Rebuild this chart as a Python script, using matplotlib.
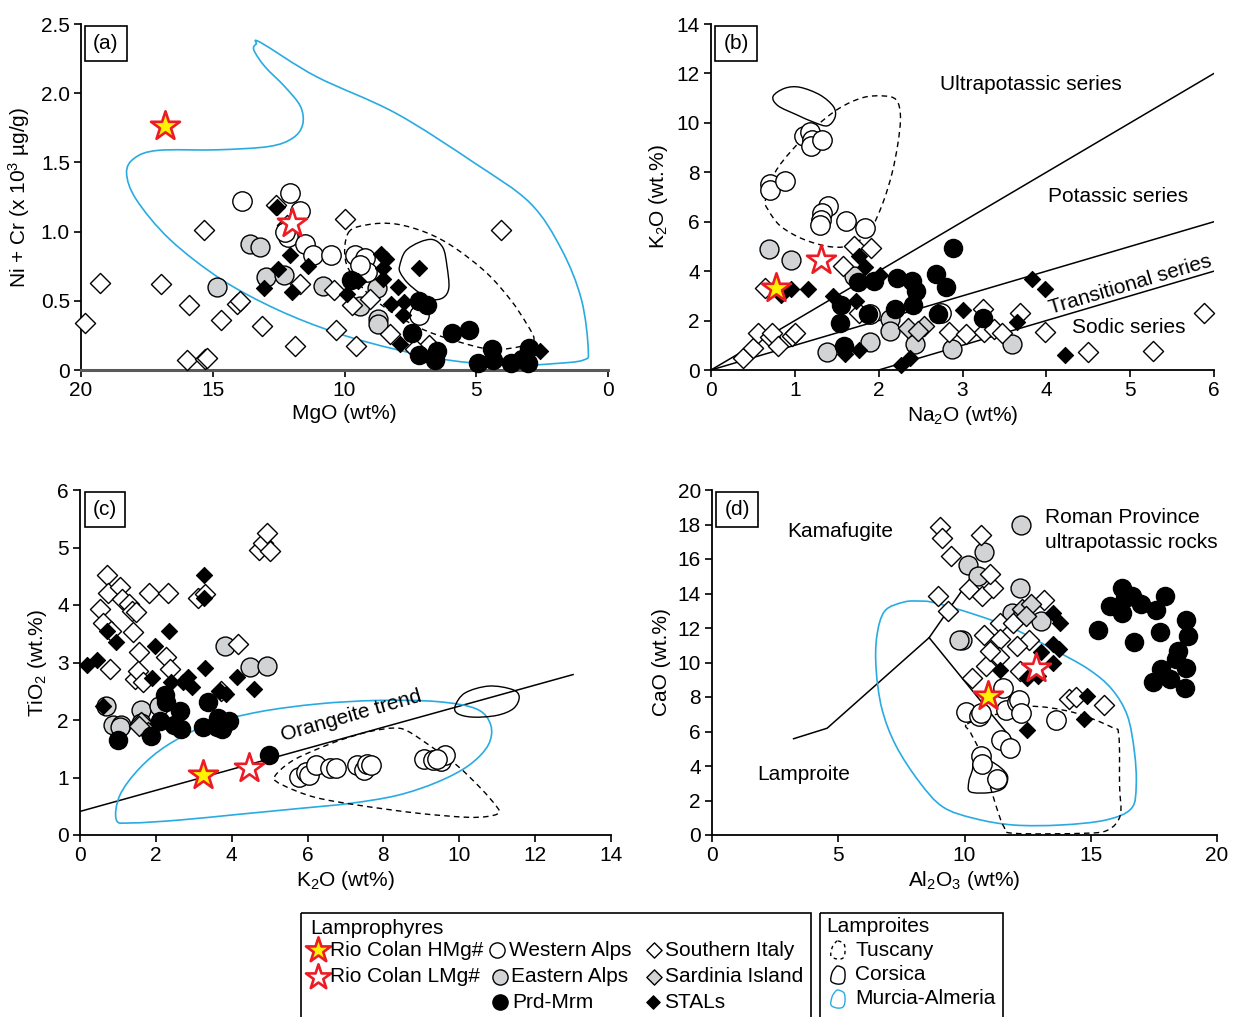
import numpy as np
import matplotlib
matplotlib.use("Agg")
import matplotlib.pyplot as plt
from matplotlib.path import Path
from matplotlib.patches import PathPatch, Rectangle

plt.rcParams['font.family'] = ['Liberation Sans', 'DejaVu Sans']
plt.rcParams['mathtext.fontset'] = 'custom'
plt.rcParams['mathtext.rm'] = 'Liberation Sans'
plt.rcParams['mathtext.it'] = 'Liberation Sans'
plt.rcParams['mathtext.default'] = 'regular'

# ---------------- panel (a): MgO vs Ni+Cr ----------------
A_WALPS = [(13.89, 1.22), (12.07, 1.28), (11.67, 1.15), (12.16, 0.96), (12.25, 1.00), (11.49, 0.91),
           (11.19, 0.83), (10.50, 0.83), (9.61, 0.83), (9.23, 0.81), (9.14, 0.71), (9.40, 0.76), (7.16, 0.40)]
A_EALPS = [(13.57, 0.91), (13.21, 0.89), (14.85, 0.60), (12.99, 0.67), (12.30, 0.69), (10.80, 0.61),
           (8.78, 0.59), (9.41, 0.46), (8.71, 0.37), (8.71, 0.33)]
A_PRD = [(9.77, 0.65), (7.19, 0.50), (6.86, 0.47), (7.43, 0.27), (7.16, 0.11), (6.56, 0.07), (6.49, 0.14),
         (5.93, 0.27), (5.29, 0.29), (4.95, 0.05), (4.40, 0.15), (4.38, 0.07), (3.68, 0.05), (3.26, 0.08),
         (3.03, 0.05), (2.99, 0.16)]
A_SITALY = [(19.85, 0.34), (19.28, 0.63), (16.97, 0.62), (15.89, 0.47), (15.33, 1.01), (15.98, 0.07),
            (15.30, 0.08), (15.22, 0.09), (14.70, 0.36), (14.07, 0.48), (13.95, 0.50), (13.12, 0.32),
            (11.89, 0.17), (12.60, 1.19), (12.20, 1.05), (11.67, 0.62), (10.32, 0.29), (9.98, 1.09),
            (9.56, 0.17), (9.71, 0.47), (9.04, 0.51), (8.29, 0.26), (6.79, 0.18), (4.05, 1.01),
            (7.31, 0.15), (10.39, 0.58)]
A_SARD = []
A_STALS = [(12.57, 1.18), (12.07, 0.83), (11.37, 0.75), (12.52, 0.73), (13.05, 0.59), (12.00, 0.56),
           (9.89, 0.55), (9.49, 0.64), (8.63, 0.84), (8.44, 0.80), (8.54, 0.74), (8.54, 0.66), (7.96, 0.60),
           (8.24, 0.48), (7.76, 0.49), (7.79, 0.40), (7.16, 0.74), (7.91, 0.19), (2.58, 0.14)]
A_HMG = [(16.80, 1.76)]
A_LMG = [(12.01, 1.06)]
A_MURCIA = [(13.17, 2.365), (11.07, 2.12), (8.06, 1.856), (5.06, 1.495), (2.96, 1.207), (1.76, 0.87),
            (1.01, 0.51), (0.75, 0.149), (0.93, 0.072), (2.06, 0.046), (3.56, 0.034), (5.81, 0.065),
            (8.06, 0.149), (10.32, 0.269), (12.57, 0.438), (14.67, 0.654), (16.62, 0.942), (17.90, 1.231),
            (18.27, 1.423), (17.97, 1.531), (17.07, 1.587), (14.82, 1.591), (12.87, 1.615), (11.97, 1.675),
            (11.59, 1.772), (11.67, 1.904), (12.27, 2.048), (13.02, 2.192), (13.44, 2.312), (13.35, 2.356)]
A_TUSCANY = [(9.86, 0.99), (9.11, 1.05), (8.06, 1.055), (6.86, 0.99), (5.81, 0.882), (4.61, 0.702),
             (3.71, 0.51), (3.11, 0.341), (2.81, 0.221), (3.26, 0.173), (4.46, 0.149), (5.96, 0.221),
             (7.16, 0.305), (8.36, 0.438), (9.26, 0.582), (9.94, 0.774)]
A_CORSICA = [(7.91, 0.75), (7.69, 0.858), (7.16, 0.923), (6.64, 0.942), (6.26, 0.882), (6.11, 0.75),
             (6.04, 0.594), (6.26, 0.522), (6.71, 0.51), (7.16, 0.558), (7.61, 0.63), (7.88, 0.702)]

# ---------------- panel (b): Na2O vs K2O ----------------
B_WALPS = [(0.70, 7.52), (0.70, 7.30), (0.88, 7.63), (1.11, 9.48), (1.18, 9.65), (1.20, 9.32), (1.19, 9.05),
           (1.32, 9.32), (1.39, 6.62), (1.32, 6.35), (1.31, 6.08), (1.30, 5.88), (1.61, 6.02), (1.84, 5.75),
           (1.90, 2.25), (2.74, 2.32)]
B_EALPS = [(0.69, 4.90), (0.96, 4.47), (1.71, 3.80), (1.38, 0.73), (1.90, 1.13), (2.13, 2.07), (2.14, 1.58),
           (2.43, 1.06), (2.88, 0.83), (3.59, 1.04)]
B_PRD = [(1.75, 3.55), (1.94, 3.59), (2.22, 3.73), (2.40, 3.59), (2.44, 3.19), (1.55, 2.65), (1.54, 1.91),
         (1.59, 0.97), (1.87, 2.25), (2.19, 2.45), (2.41, 2.61), (2.68, 3.90), (2.80, 3.37), (2.71, 2.25),
         (2.89, 4.94), (3.25, 2.11)]
B_SITALY = [(0.38, 0.50), (0.50, 0.90), (0.56, 1.51), (0.70, 1.35), (0.73, 1.48), (0.80, 0.97), (0.97, 1.37),
            (1.00, 1.48), (0.64, 3.32), (1.57, 4.20), (1.70, 5.01), (1.91, 4.94), (1.76, 2.32), (2.84, 1.53),
            (3.04, 1.44), (3.25, 2.45), (3.26, 1.53), (3.38, 1.64), (3.47, 1.51), (3.68, 2.32), (3.99, 1.53),
            (4.50, 0.73), (5.27, 0.77), (5.88, 2.29)]
B_SARD = [(2.35, 1.71), (2.54, 1.78), (2.47, 1.58)]
B_STALS = [(0.95, 3.26), (1.16, 3.26), (1.45, 2.99), (1.76, 4.60), (1.84, 4.16), (2.01, 3.85), (1.73, 2.79),
           (1.77, 0.79), (1.60, 0.63), (2.27, 0.19), (2.37, 0.50), (3.00, 2.42), (3.65, 1.94), (3.83, 3.69),
           (3.99, 3.26), (4.22, 0.59), (0.84, 3.02)]
B_HMG = [(0.78, 3.30)]
B_LMG = [(1.31, 4.47)]
B_TUSCANY = [(0.65, 6.89), (0.76, 7.97), (0.97, 8.91), (1.25, 9.85), (1.53, 10.59), (1.81, 11.02),
             (2.05, 11.09), (2.21, 10.93), (2.26, 10.26), (2.23, 9.18), (2.16, 7.97), (2.05, 6.76),
             (1.90, 5.68), (1.69, 5.08), (1.44, 4.98), (1.11, 5.28), (0.83, 5.82), (0.68, 6.49)]
B_CORSICA = [(0.74, 11.07), (0.88, 11.40), (1.06, 11.44), (1.30, 11.13), (1.46, 10.66), (1.48, 10.23),
             (1.39, 9.88), (1.23, 10.02), (1.02, 10.33), (0.80, 10.69)]
B_SERIES_LINES = [((0, 6), (0, 12)), ((0, 6), (0, 6)), ((2, 6), (0, 4))]

# ---------------- panel (c): K2O vs TiO2 ----------------
C_WALPS = [(5.78, 1.01), (5.96, 1.09), (6.05, 1.05), (6.23, 1.21), (6.59, 1.17), (6.75, 1.16), (7.30, 1.21),
           (7.50, 1.13), (7.58, 1.23), (7.66, 1.21), (9.08, 1.32), (9.31, 1.30), (9.52, 1.29), (9.63, 1.39),
           (9.40, 1.33)]
C_EALPS = [(0.68, 2.24), (0.86, 1.92), (1.08, 1.91), (1.05, 1.87), (1.62, 2.18), (1.62, 1.94), (2.07, 2.24),
           (3.82, 3.29), (4.47, 2.92), (4.92, 2.94)]
C_SARD = [(1.62, 1.97), (1.78, 1.79), (1.55, 1.90)]
C_PRD = [(1.01, 1.66), (1.88, 1.73), (2.25, 2.43), (2.28, 2.31), (2.11, 1.98), (2.64, 2.16), (2.48, 1.92),
         (2.65, 1.84), (3.37, 2.31), (3.24, 1.88), (3.61, 1.87), (3.64, 2.03), (3.74, 1.84), (3.92, 1.98),
         (4.97, 1.39)]
C_SITALY = [(0.70, 4.52), (0.75, 4.21), (1.05, 4.31), (1.10, 4.10), (0.52, 3.93), (0.61, 3.69), (0.81, 3.55),
            (0.78, 2.89), (1.28, 4.02), (1.37, 3.90), (1.47, 3.88), (1.41, 3.53), (1.55, 3.18), (1.45, 2.71),
            (1.52, 2.86), (1.65, 2.66), (1.83, 4.21), (2.32, 4.21), (2.28, 3.10), (2.36, 2.89), (3.11, 4.13),
            (3.30, 4.19), (4.16, 3.32), (4.71, 4.96), (4.82, 5.08), (4.94, 5.25), (5.00, 4.94), (3.71, 2.51)]
C_STALS = [(0.19, 2.96), (0.46, 3.05), (0.71, 3.54), (0.94, 3.36), (1.91, 2.73), (1.99, 3.28), (2.35, 3.54),
           (2.41, 2.66), (2.85, 2.75), (2.96, 2.57), (3.28, 4.52), (3.28, 4.12), (3.30, 2.90), (3.68, 2.51),
           (3.84, 2.46), (4.13, 2.75), (4.60, 2.54), (0.60, 2.25), (2.72, 2.66)]
C_HMG = [(3.24, 1.05)]
C_LMG = [(4.45, 1.17)]
C_MURCIA = [(0.96, 0.26), (1.05, 0.69), (1.57, 1.16), (2.30, 1.56), (3.35, 1.91), (4.71, 2.14), (6.28, 2.28),
            (7.85, 2.34), (9.42, 2.32), (10.46, 2.19), (10.83, 1.91), (10.76, 1.56), (10.25, 1.21),
            (9.42, 0.92), (8.37, 0.69), (7.12, 0.55), (5.76, 0.46), (4.19, 0.36), (2.62, 0.26), (1.36, 0.21)]
C_CORSICA = [(9.89, 2.24), (10.15, 2.47), (10.78, 2.59), (11.40, 2.53), (11.58, 2.40), (11.43, 2.20),
             (10.99, 2.08), (10.36, 2.05), (9.96, 2.11)]
C_TUSCANY = [(5.13, 1.01), (5.55, 1.27), (6.17, 1.47), (6.91, 1.66), (7.64, 1.80), (8.27, 1.86), (8.63, 1.81),
             (9.21, 1.56), (9.94, 1.21), (10.57, 0.81), (10.99, 0.49), (11.04, 0.38), (10.72, 0.32),
             (10.15, 0.31), (8.89, 0.38), (7.32, 0.52), (6.17, 0.66), (5.34, 0.87)]
C_TREND = ((0, 13), (0.41, 2.79))

# ---------------- panel (d): Al2O3 vs CaO ----------------
D_WALPS = [(10.05, 7.15), (10.58, 6.92), (10.67, 7.08), (11.51, 8.52), (11.66, 7.27), (12.07, 7.69),
           (12.17, 7.85), (12.22, 7.06), (13.62, 6.69), (11.45, 5.48), (11.79, 5.06), (10.67, 4.58),
           (10.70, 4.13), (11.29, 3.23)]
D_EALPS = [(10.78, 16.38), (10.15, 15.67), (10.54, 15.04), (12.18, 14.33), (9.89, 11.31), (9.80, 11.30),
           (11.87, 12.85), (12.33, 12.85), (13.03, 12.40)]
D_SARD = [(12.26, 13.08), (12.64, 13.37), (12.45, 12.70)]
D_PRD = [(15.29, 11.88), (15.75, 13.27), (16.22, 14.29), (16.34, 13.75), (16.64, 13.88), (17.00, 13.37),
         (17.57, 13.02), (17.93, 13.88), (16.25, 12.85), (16.72, 11.21), (17.73, 11.77), (18.79, 12.46),
         (18.87, 11.54), (18.44, 10.67), (18.37, 10.23), (17.78, 9.65), (18.79, 9.67), (17.46, 8.88),
         (18.13, 9.04), (18.74, 8.52)]
D_SITALY = [(9.02, 17.88), (9.12, 17.21), (9.46, 16.19), (10.67, 17.37), (8.96, 13.88), (9.33, 12.98),
            (10.19, 14.27), (10.70, 13.88), (11.13, 14.33), (11.01, 15.15), (11.40, 12.27), (10.78, 11.60),
            (11.40, 11.35), (12.54, 11.31), (12.07, 10.96), (13.16, 13.65), (11.35, 10.29), (10.86, 9.81),
            (10.31, 9.13), (12.18, 9.48), (14.12, 7.88), (14.40, 7.98), (15.52, 7.54), (11.94, 12.31),
            (11.01, 10.67)]
D_STALS = [(13.50, 12.85), (13.78, 12.27), (13.50, 11.06), (13.73, 10.77), (13.03, 10.62), (13.50, 9.96),
           (11.40, 9.58), (12.46, 9.13), (12.92, 9.23), (14.87, 8.08), (14.74, 6.73), (12.49, 6.10)]
D_HMG = [(10.93, 8.08)]
D_LMG = [(12.85, 9.67)]
D_ROMAN = [(12.24, 17.97)]
D_MURCIA = [(7.59, 13.50), (6.84, 12.98), (6.53, 11.54), (6.50, 9.62), (6.73, 7.31), (7.28, 5.19),
            (8.21, 3.08), (9.14, 1.63), (10.39, 0.96), (11.94, 0.58), (13.81, 0.58), (15.60, 0.87),
            (16.61, 1.54), (16.80, 2.88), (16.73, 4.81), (16.45, 6.92), (15.83, 8.46), (14.90, 9.62),
            (13.50, 10.77), (11.94, 11.96), (10.39, 12.79), (8.83, 13.46), (8.21, 13.56)]
D_TUSCANY = [(10.11, 6.44), (11.32, 7.02), (12.57, 7.46), (14.28, 7.12), (15.83, 6.25), (16.11, 5.77),
             (16.14, 2.88), (16.17, 1.15), (15.68, 0.29), (14.74, 0.10), (11.94, 0.10), (11.56, 0.48),
             (11.24, 1.73), (10.93, 3.27), (10.62, 4.81), (10.23, 5.96)]
D_CORSICA = [(10.39, 4.23), (10.93, 4.33), (11.45, 3.88), (11.71, 3.37), (11.56, 2.73), (11.01, 2.46),
             (10.23, 2.50), (10.17, 3.08), (10.31, 3.75)]
D_LAMP_LINE = ([3.23, 4.56, 8.60, 10.2], [5.58, 6.19, 11.44, 14.8])
D_KAMA_LINE = ([8.60, 12.10], [11.44, 5.15])

BLUE = '#29abe2'
GRAY = '#d1d3d4'
RED = '#ed1c24'
YELLOW = '#fff200'
FS = 15


def closed_curve(ax, pts, **kw):
    # smooth closed outline (Catmull-Rom as cubic Bezier)
    p = np.array(pts, dtype=float)
    n = len(p)
    verts = [p[0]]
    codes = [Path.MOVETO]
    for i in range(n):
        p0, p1, p2, p3 = p[i - 1], p[i], p[(i + 1) % n], p[(i + 2) % n]
        verts += [p1 + (p2 - p0) / 6, p2 - (p3 - p1) / 6, p2]
        codes += [Path.CURVE4] * 3
    ax.add_patch(PathPatch(Path(verts, codes), fill=False, **kw))


DIAMOND = (4, 0, 0)
STYLES = {
    'ealps': dict(marker='o', s=185, fc=GRAY, ec='black', lw=1.0),
    'sitaly': dict(marker=DIAMOND, s=210, fc='white', ec='black', lw=1.0),
    'sard': dict(marker=DIAMOND, s=210, fc=GRAY, ec='black', lw=1.0),
    'walps': dict(marker='o', s=195, fc='white', ec='black', lw=1.0),
    'prd': dict(marker='o', s=170, fc='black', ec='black', lw=1.0),
    'stals': dict(marker=DIAMOND, s=135, fc='black', ec='black', lw=0.8),
    'hmg': dict(marker='*', s=480, fc=YELLOW, ec=RED, lw=1.9),
    'lmg': dict(marker='*', s=480, fc='white', ec=RED, lw=1.9),
}


def plot_groups(ax, groups):
    for key, pts in groups:
        if not pts:
            continue
        xy = np.array(pts)
        ax.scatter(xy[:, 0], xy[:, 1], clip_on=False, zorder=3, **STYLES[key])


def style_axis(ax, label):
    for s in ['top', 'right']:
        ax.spines[s].set_visible(False)
    for s in ['left', 'bottom']:
        ax.spines[s].set_linewidth(1.3)
    ax.tick_params(direction='out', length=5, width=1.2, labelsize=FS, pad=3)
    # boxed panel letter, centred ~25 px right / 20 px below the axes corner
    ax.annotate(label, xy=(0, 1), xycoords='axes fraction', xytext=(18, -14), textcoords='offset points',
                ha='center', va='center', fontsize=FS, zorder=5,
                bbox=dict(boxstyle='square,pad=0.38', fc='white', ec='black', lw=1.2))


fig = plt.figure(figsize=(12.35, 10.17), dpi=100)
W, H = 1235.0, 1017.0


def add_axes(x0, x1, ytop, ybot):
    return fig.add_axes([x0 / W, 1 - ybot / H, (x1 - x0) / W, (ybot - ytop) / H])


# (a)
ax = add_axes(81, 608, 24, 370)
closed_curve(ax, A_MURCIA, ec=BLUE, lw=1.2, zorder=2)
closed_curve(ax, A_TUSCANY, ec='black', lw=1.0, ls=(0, (4, 3)), zorder=2)
closed_curve(ax, A_CORSICA, ec='black', lw=1.0, zorder=2)
plot_groups(ax, [('ealps', A_EALPS), ('sitaly', A_SITALY), ('sard', A_SARD), ('walps', A_WALPS),
                 ('prd', A_PRD), ('stals', A_STALS), ('hmg', A_HMG), ('lmg', A_LMG)])
ax.set_xlim(20, 0)
ax.set_ylim(0, 2.5)
ax.set_xticks([20, 15, 10, 5, 0])
ax.set_yticks([0, 0.5, 1.0, 1.5, 2.0, 2.5])
ax.set_yticklabels(['0', '0.5', '1.0', '1.5', '2.0', '2.5'])
style_axis(ax, '(a)')
ax.spines['bottom'].set_color('#5a5a5a')
ax.spines['bottom'].set_linewidth(2.2)
ax.set_xlabel('MgO (wt%)', fontsize=FS, labelpad=3)
ax.set_ylabel('Ni + Cr (x 10$^3$ µg/g)', fontsize=FS, labelpad=6)

# (b)
ax = add_axes(711, 1214, 24, 370)
for xs, ys in B_SERIES_LINES:
    ax.plot(xs, ys, color='black', lw=1.1, zorder=1)
closed_curve(ax, B_TUSCANY, ec='black', lw=1.0, ls=(0, (4, 3)), zorder=2)
closed_curve(ax, B_CORSICA, ec='black', lw=1.0, zorder=2)
plot_groups(ax, [('ealps', B_EALPS), ('sitaly', B_SITALY), ('sard', B_SARD), ('walps', B_WALPS),
                 ('prd', B_PRD), ('stals', B_STALS), ('hmg', B_HMG), ('lmg', B_LMG)])
ax.set_xlim(0, 6)
ax.set_ylim(0, 14)
ax.set_xticks(range(0, 7))
ax.set_yticks(range(0, 15, 2))
style_axis(ax, '(b)')
ax.text(3.81, 11.54, 'Ultrapotassic series', fontsize=FS, ha='center', va='center')
ax.text(4.86, 7.04, 'Potassic series', fontsize=FS, ha='center', va='center')
ax.text(5.0, 3.45, 'Transitional series', fontsize=FS, ha='center', va='center', rotation=16.5,
        rotation_mode='anchor')
ax.text(4.98, 1.70, 'Sodic series', fontsize=FS, ha='center', va='center')
ax.set_xlabel('Na$_2$O (wt%)', fontsize=FS, labelpad=3)
ax.set_ylabel('K$_2$O (wt.%)', fontsize=FS, labelpad=5)

# (c)
ax = add_axes(80, 611, 490, 835)
ax.plot(C_TREND[0], C_TREND[1], color='black', lw=1.1, zorder=1)
closed_curve(ax, C_MURCIA, ec=BLUE, lw=1.2, zorder=2)
closed_curve(ax, C_TUSCANY, ec='black', lw=1.0, ls=(0, (4, 3)), zorder=2)
closed_curve(ax, C_CORSICA, ec='black', lw=1.0, zorder=2)
plot_groups(ax, [('ealps', C_EALPS), ('sitaly', C_SITALY), ('sard', C_SARD), ('walps', C_WALPS),
                 ('prd', C_PRD), ('stals', C_STALS), ('hmg', C_HMG), ('lmg', C_LMG)])
ax.set_xlim(0, 14)
ax.set_ylim(0, 6)
ax.set_xticks(range(0, 15, 2))
ax.set_yticks(range(0, 7))
style_axis(ax, '(c)')
ax.text(7.16, 2.07, 'Orangeite trend', fontsize=FS, ha='center', va='center', rotation=16,
        rotation_mode='anchor')
ax.set_xlabel('K$_2$O (wt%)', fontsize=FS, labelpad=3)
ax.set_ylabel('TiO$_2$ (wt.%)', fontsize=FS, labelpad=6)

# (d)
ax = add_axes(712, 1217, 490, 835)
ax.plot(D_LAMP_LINE[0], D_LAMP_LINE[1], color='black', lw=1.1, zorder=1)
ax.plot(D_KAMA_LINE[0], D_KAMA_LINE[1], color='black', lw=1.1, zorder=1)
closed_curve(ax, D_MURCIA, ec=BLUE, lw=1.2, zorder=2)
closed_curve(ax, D_TUSCANY, ec='black', lw=1.0, ls=(0, (4, 3)), zorder=2)
closed_curve(ax, D_CORSICA, ec='black', lw=1.0, zorder=2)
plot_groups(ax, [('ealps', D_EALPS), ('sitaly', D_SITALY), ('sard', D_SARD), ('walps', D_WALPS),
                 ('prd', D_PRD), ('stals', D_STALS), ('hmg', D_HMG), ('lmg', D_LMG), ('ealps', D_ROMAN)])
ax.set_xlim(0, 20)
ax.set_ylim(0, 20)
ax.set_xticks(range(0, 21, 5))
ax.set_yticks(range(0, 21, 2))
style_axis(ax, '(d)')
ax.text(5.07, 17.57, 'Kamafugite', fontsize=FS, ha='center', va='center')
ax.text(3.64, 3.48, 'Lamproite', fontsize=FS, ha='center', va='center')
ax.text(13.2, 18.43, 'Roman Province', fontsize=FS, ha='left', va='center')
ax.text(13.2, 16.93, 'ultrapotassic rocks', fontsize=FS, ha='left', va='center')
ax.set_xlabel('Al$_2$O$_3$ (wt%)', fontsize=FS, labelpad=3)
ax.set_ylabel('CaO (wt.%)', fontsize=FS, labelpad=5)

# ---------------- legend (pixel coordinates) ----------------
lg = fig.add_axes([0, 0, 1, 1])
lg.set_xlim(0, W)
lg.set_ylim(H, 0)
lg.axis('off')
lg.add_patch(Rectangle((301, 913), 510, 120, fill=False, ec='black', lw=1.2, clip_on=False))
lg.add_patch(Rectangle((820, 913), 183, 120, fill=False, ec='black', lw=1.2, clip_on=False))

LEG_FS = 15
lg.text(310, 928, 'Lamprophyres', fontsize=LEG_FS, va='center', ha='left')
lg.text(826, 927, 'Lamproites', fontsize=LEG_FS, va='center', ha='left')

leg_items = [
    (318, 950, 'hmg', 'Rio Colan HMg#', 330),
    (318, 977, 'lmg', 'Rio Colan LMg#', 330),
    (497, 950, 'walps', 'Western Alps', 509),
    (500, 977, 'ealps', 'Eastern Alps', 511),
    (500, 1002, 'prd', 'Prd-Mrm', 512),
    (654, 950, 'sitaly', 'Southern Italy', 665),
    (654, 977, 'sard', 'Sardinia Island', 665),
    (653, 1002, 'stals', 'STALs', 664),
]
for mx, my, key, txt, tx in leg_items:
    st = dict(STYLES[key])
    if key in ('hmg', 'lmg'):
        st['s'] = 360
    elif key == 'stals':
        st['s'] = 95
    else:
        st['s'] = 120
    lg.scatter([mx], [my], clip_on=False, **st)
    lg.text(tx, my, txt, fontsize=LEG_FS, va='center', ha='left')

loop = [(0, -9), (6, -6), (7, 2), (5, 8), (-1, 9), (-7, 6), (-6, -2), (-3, -7)]
for dy, kw, txt in [(950, dict(ec='black', ls=(0, (2.5, 2.5))), 'Tuscany'),
                    (975, dict(ec='black'), 'Corsica'),
                    (999, dict(ec=BLUE), 'Murcia-Almeria')]:
    closed_curve(lg, [(838 + a, dy + b) for a, b in loop], lw=1.0, **kw)
    lg.text(855, dy, txt, fontsize=LEG_FS, va='center', ha='left')

fig.savefig('out.png', dpi=100)
